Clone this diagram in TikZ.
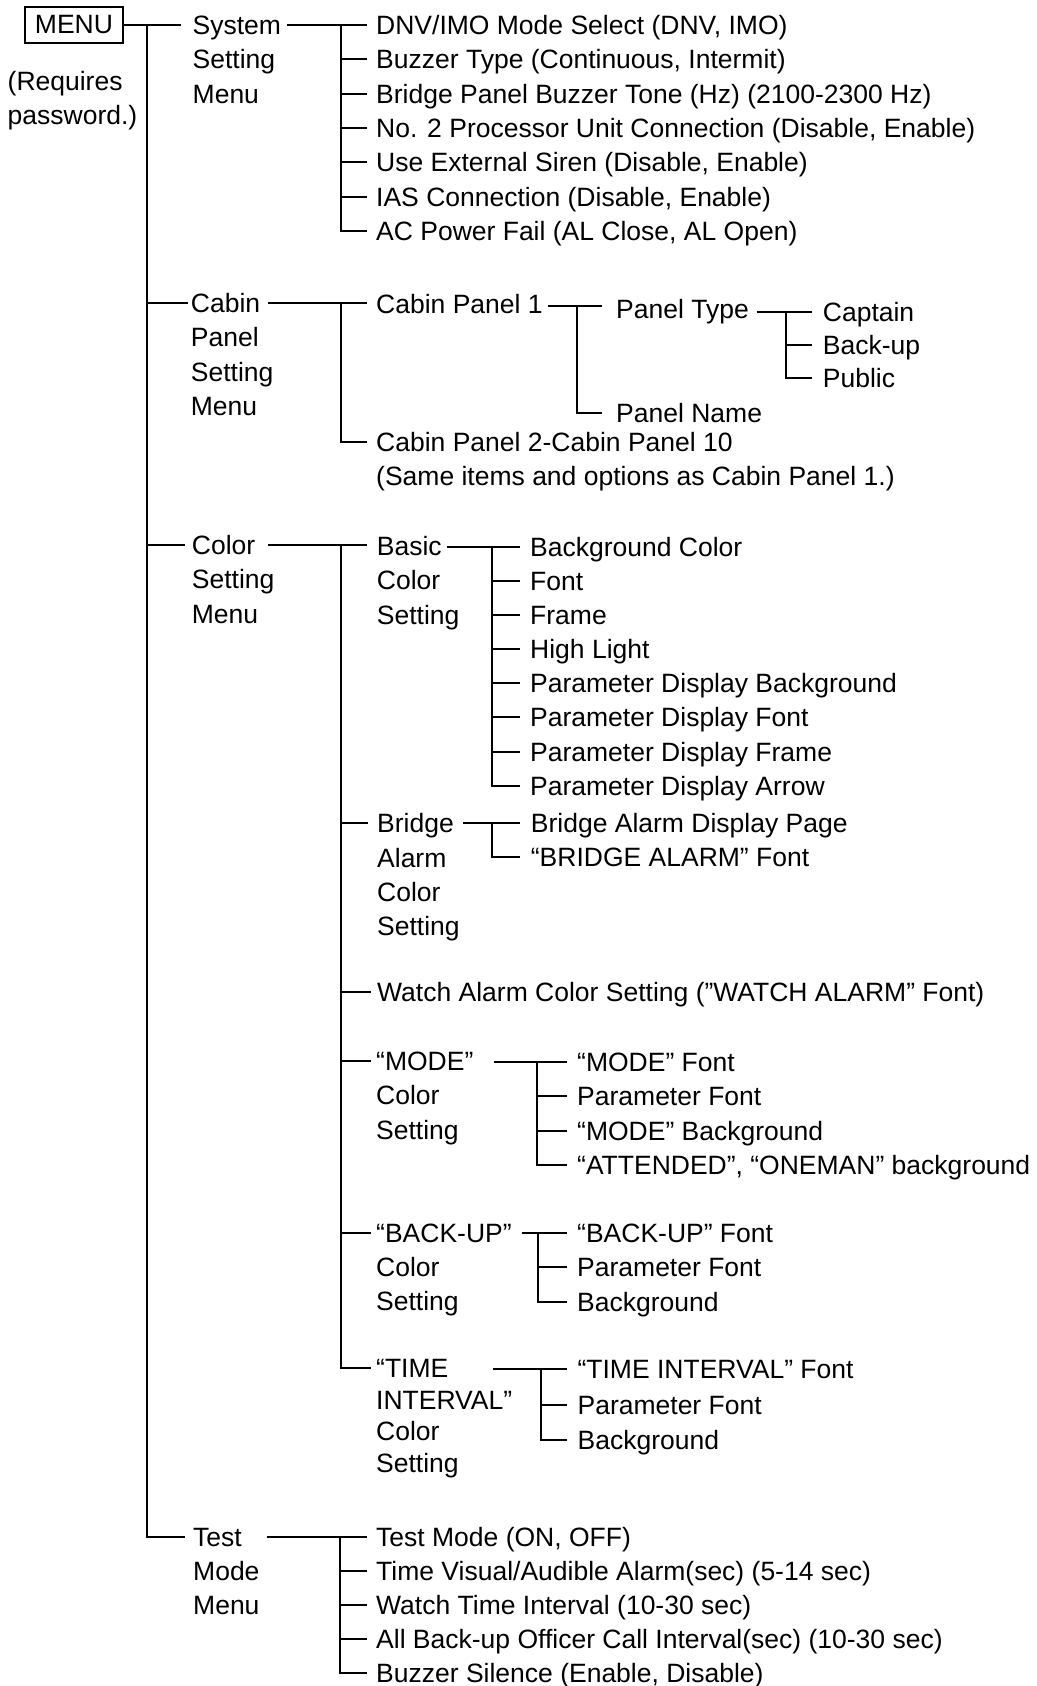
\documentclass[tikz,border=0pt]{standalone}
\usepackage{fontspec}
\setmainfont{Liberation Sans}
\newcommand\fs{\fontsize{26.5}{34.3}\selectfont}
\newcommand\fst{\fontsize{26.5}{31.5}\selectfont}
\newcommand\ml[1]{\begin{tabular}[t]{@{}l@{}}#1\end{tabular}}
\tikzset{
  lbl/.style={anchor=base west, inner sep=0pt, font=\fs},
  wire/.style={line width=2pt},
}
% #1 gap before text, #2 name, #3 x, #4 row (line y), #5 text
\newcommand\itm[5][9.5]{%
  \node[lbl] (#2) at (#3,#4+9.5) {#5};
  \coordinate (#2-p) at ([xshift=-#1pt,yshift=9.5pt]#2.base west);}
\begin{document}
\begin{tikzpicture}[x=1pt,y=-1pt]
\fill[white] (0,0) rectangle (1036,1686);
\useasboundingbox (0,0) rectangle (1036,1686);

% root
\node[draw, line width=1.8pt, minimum width=98pt, minimum height=36pt, inner sep=0pt, font=\fs] (menu) at (74,25) {MENU};
\node[lbl] (req) at (7.5,90.5) {\ml{(Requires\\password.)}};

% level 1
\itm[11.5]{sys}{192.5}{25}{\ml{System\\Setting\\Menu}}
\itm[2.7]{cab}{190.7}{303}{\ml{Cabin\\Panel\\Setting\\Menu}}
\itm[6.7]{col}{191.7}{545}{\ml{Color\\Setting\\Menu}}
\itm[8]{tst}{193}{1536.5}{\ml{Test\\Mode\\Menu}}

\coordinate (trunk) at (147,25);
\draw[wire] (menu.east) -- (sys-p);
\draw[wire] (trunk) -- (trunk |- tst-p) -- (tst-p);
\draw[wire] (trunk |- cab-p) -- (cab-p);
\draw[wire] (trunk |- col-p) -- (col-p);

% System setting menu
\itm{s1}{376}{25}{DNV/IMO Mode Select (DNV, IMO)}
\itm{s2}{376}{59.3}{Buzzer Type (Continuous, Intermit)}
\itm{s3}{376}{93.6}{Bridge Panel Buzzer Tone (Hz) (2100-2300 Hz)}
\itm{s4}{376}{127.9}{No. 2 Processor Unit Connection (Disable, Enable)}
\itm{s5}{376}{162.2}{Use External Siren (Disable, Enable)}
\itm{s6}{376}{196.5}{IAS Connection (Disable, Enable)}
\itm{s7}{376}{230.8}{AC Power Fail (AL Close, AL Open)}
\coordinate (sys-o) at (286.7,25);
\coordinate (sysb) at (340.7,25);
\draw[wire] (sys-o) -- (s1-p);
\draw[wire] (sysb) -- (sysb |- s7-p) -- (s7-p);
\foreach \n in {s2,s3,s4,s5,s6} {\draw[wire] (sysb |- \n-p) -- (\n-p);}

% Cabin panel setting menu
\itm{cp1}{376}{304}{Cabin Panel 1}
\itm{cp2}{376}{442}{\ml{Cabin Panel 2-Cabin Panel 10\\(Same items and options as Cabin Panel 1.)}}
\coordinate (cab-o) at (268.3,303);
\coordinate (cabb) at (340.7,303);
\draw[wire] (cab-o) -- (cab-o -| cp1-p);
\draw[wire] (cabb) -- (cabb |- cp2-p) -- (cp2-p);

\itm[14]{ptype}{616}{309}{Panel Type}
\itm[14]{pname}{616}{412.7}{Panel Name}
\coordinate (cp1-o) at (548.3,306);
\coordinate (cp1b) at (576.7,306);
\draw[wire] (cp1-o) -- (cp1-o -| ptype-p);
\draw[wire] (cp1b) -- (cp1b |- pname-p) -- (pname-p);

\itm[11]{cap}{822.7}{311.7}{Captain}
\itm[11]{bku}{822.7}{345}{Back-up}
\itm[11]{pub}{822.7}{378.3}{Public}
\coordinate (pt-o) at (756.7,311.7);
\coordinate (ptb) at (785.7,311.7);
\draw[wire] (pt-o) -- (pt-o -| cap-p);
\draw[wire] (ptb) -- (ptb |- pub-p) -- (pub-p);
\draw[wire] (ptb |- bku-p) -- (bku-p);

% Color setting menu
\itm{bas}{376.7}{546}{\ml{Basic\\Color\\Setting}}
\itm{bri}{377}{823.3}{\ml{Bridge\\Alarm\\Color\\Setting}}
\itm[5.6]{wat}{377}{992}{Watch Alarm Color Setting (”WATCH ALARM” Font)}
\itm[5]{mod}{376}{1061}{\ml{“MODE”\\Color\\Setting}}
\itm[5]{bak}{376}{1232.5}{\ml{“BACK-UP”\\Color\\Setting}}
\itm[5]{tim}{376}{1368}{\fst\ml{“TIME\\INTERVAL”\\Color\\Setting}}
\coordinate (col-o) at (268,545);
\coordinate (colb) at (340.7,545);
\draw[wire] (col-o) -- (col-o -| bas-p);
\draw[wire] (colb) -- (colb |- tim-p) -- (tim-p);
\foreach \n in {bri,wat,mod,bak} {\draw[wire] (colb |- \n-p) -- (\n-p);}

% Basic color setting
\itm[10]{b1}{530}{546.7}{Background Color}
\itm[10]{b2}{530}{580.8}{Font}
\itm[10]{b3}{530}{615.0}{Frame}
\itm[10]{b4}{530}{649.1}{High Light}
\itm[10]{b5}{530}{683.3}{Parameter Display Background}
\itm[10]{b6}{530}{717.4}{Parameter Display Font}
\itm[10]{b7}{530}{751.5}{Parameter Display Frame}
\itm[10]{b8}{530}{785.7}{Parameter Display Arrow}
\coordinate (bas-o) at (446.7,546.5);
\coordinate (basb) at (491.7,546.5);
\draw[wire] (bas-o) -- (bas-o -| b1-p);
\draw[wire] (basb) -- (basb |- b8-p) -- (b8-p);
\foreach \n in {b2,b3,b4,b5,b6,b7} {\draw[wire] (basb |- \n-p) -- (\n-p);}

% Bridge alarm color setting
\itm[10.7]{r1}{530.7}{823.3}{Bridge Alarm Display Page}
\itm[10.7]{r2}{530.7}{857}{“BRIDGE ALARM” Font}
\coordinate (bri-o) at (463.3,823.3);
\coordinate (brib) at (491.7,823.3);
\draw[wire] (bri-o) -- (bri-o -| r1-p);
\draw[wire] (brib) -- (brib |- r2-p) -- (r2-p);

% MODE color setting
\itm[10.5]{m1}{577}{1061.5}{“MODE” Font}
\itm[10.5]{m2}{577}{1096}{Parameter Font}
\itm[10.5]{m3}{577}{1130.5}{“MODE” Background}
\itm[10.5]{m4}{577}{1165}{“ATTENDED”, “ONEMAN” background}
\coordinate (mod-o) at (494,1061.5);
\coordinate (modb) at (537.3,1061.5);
\draw[wire] (mod-o) -- (mod-o -| m1-p);
\draw[wire] (modb) -- (modb |- m4-p) -- (m4-p);
\foreach \n in {m2,m3} {\draw[wire] (modb |- \n-p) -- (\n-p);}

% BACK-UP color setting
\itm[10.5]{k1}{577}{1232.7}{“BACK-UP” Font}
\itm[10.5]{k2}{577}{1267.1}{Parameter Font}
\itm[10.5]{k3}{577}{1301.5}{Background}
\coordinate (bak-o) at (521.7,1232.7);
\coordinate (bakb) at (538.2,1232.7);
\draw[wire] (bak-o) -- (bak-o -| k1-p);
\draw[wire] (bakb) -- (bakb |- k3-p) -- (k3-p);
\draw[wire] (bakb |- k2-p) -- (k2-p);

% TIME INTERVAL color setting
\itm[10.9]{t1}{577.4}{1369}{“TIME INTERVAL” Font}
\itm[10.9]{t2}{577.4}{1404.5}{Parameter Font}
\itm[10.9]{t3}{577.4}{1439.5}{Background}
\coordinate (tim-o) at (493.4,1369);
\coordinate (timb) at (540.6,1369);
\draw[wire] (tim-o) -- (tim-o -| t1-p);
\draw[wire] (timb) -- (timb |- t3-p) -- (t3-p);
\draw[wire] (timb |- t2-p) -- (t2-p);

% Test mode menu
\itm{e1}{376}{1536.5}{Test Mode (ON, OFF)}
\itm{e2}{376}{1570.7}{Time Visual/Audible Alarm(sec) (5-14 sec)}
\itm{e3}{376}{1604.9}{Watch Time Interval (10-30 sec)}
\itm{e4}{376}{1639.1}{All Back-up Officer Call Interval(sec) (10-30 sec)}
\itm{e5}{376}{1673.3}{Buzzer Silence (Enable, Disable)}
\coordinate (tst-o) at (266.7,1536.5);
\coordinate (tstb) at (339.5,1536.5);
\draw[wire] (tst-o) -- (tst-o -| e1-p);
\draw[wire] (tstb) -- (tstb |- e5-p) -- (e5-p);
\foreach \n in {e2,e3,e4} {\draw[wire] (tstb |- \n-p) -- (\n-p);}
\end{tikzpicture}
\end{document}
